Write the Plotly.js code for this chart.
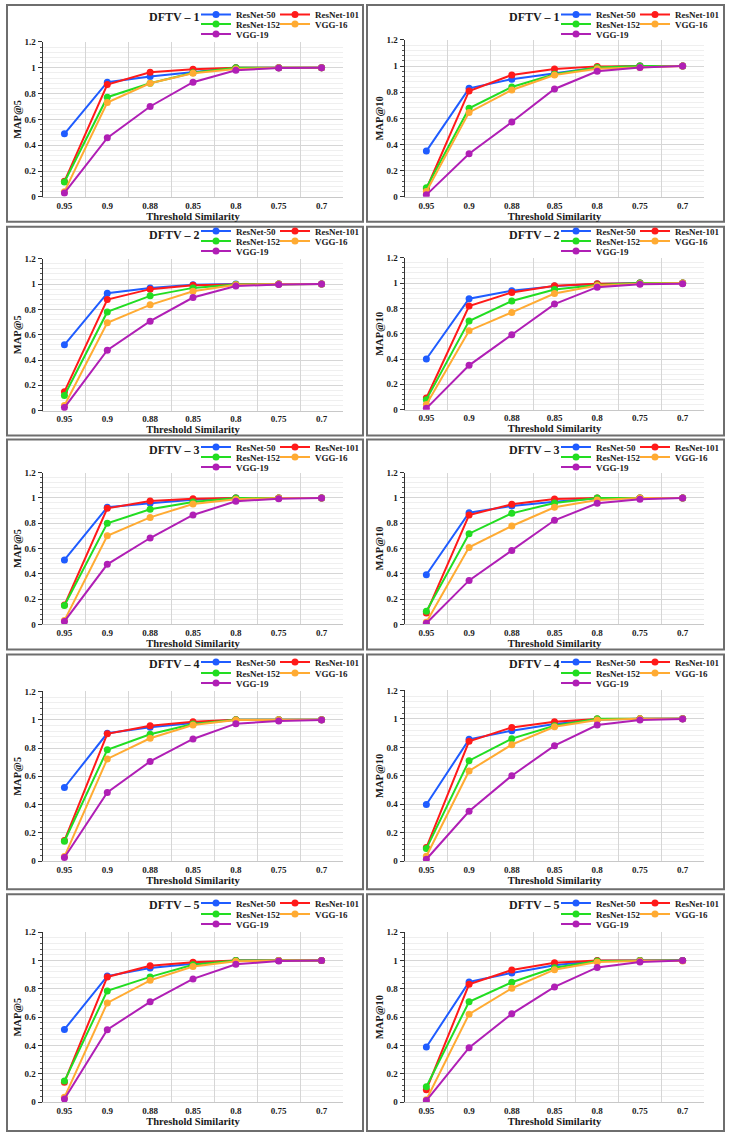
<!DOCTYPE html>
<html><head><meta charset="utf-8">
<script src="https://cdn.plot.ly/plotly-3.0.1.min.js"></script>
<style>html,body{margin:0;padding:0;background:#fff}</style>
</head><body><div id="chart" style="width:733px;height:1139px"></div>
<script>
const thresholds = ['0.95','0.9','0.88','0.85','0.8','0.75','0.7'];
const models = ['ResNet-50','ResNet-101','ResNet-152','VGG-16','VGG-19'];
const datasetNames = ['DFTV – 1','DFTV – 2','DFTV – 3','DFTV – 4','DFTV – 5'];
const xTitle = 'Threshold Similarity';
const metricNames = ['MAP@5','MAP@10'];

// MAP@5 values, one row per dataset (DFTV-1..5), columns follow thresholds
const map5_resnet50 = [
 [0.488, 0.888, 0.932, 0.968, 1.0, 1.0, 1.0],
 [0.52, 0.928, 0.97, 0.994, 1.0, 1.0, 1.0],
 [0.51, 0.926, 0.957, 0.986, 1.0, 1.0, 1.0],
 [0.521, 0.904, 0.946, 0.977, 1.0, 1.0, 1.0],
 [0.513, 0.89, 0.947, 0.977, 1.0, 1.0, 1.0]
];
const map5_resnet101 = [
 [0.12, 0.87, 0.965, 0.988, 1.0, 1.0, 1.0],
 [0.15, 0.878, 0.96, 0.99, 0.997, 1.0, 1.0],
 [0.153, 0.918, 0.976, 0.994, 1.0, 1.0, 1.0],
 [0.146, 0.9, 0.958, 0.986, 1.0, 1.0, 1.0],
 [0.14, 0.884, 0.963, 0.987, 1.0, 1.0, 1.0]
];
const map5_resnet152 = [
 [0.115, 0.772, 0.88, 0.962, 1.0, 1.0, 1.0],
 [0.12, 0.78, 0.907, 0.97, 0.997, 1.0, 1.0],
 [0.15, 0.80, 0.91, 0.968, 1.0, 1.0, 1.0],
 [0.141, 0.787, 0.897, 0.97, 1.0, 1.0, 1.0],
 [0.148, 0.785, 0.884, 0.97, 1.0, 1.0, 1.0]
];
const map5_vgg16 = [
 [0.04, 0.73, 0.88, 0.957, 0.99, 1.0, 1.0],
 [0.04, 0.694, 0.836, 0.944, 0.994, 1.0, 1.0],
 [0.032, 0.70, 0.846, 0.952, 0.99, 1.0, 1.0],
 [0.033, 0.723, 0.869, 0.963, 0.998, 1.0, 1.0],
 [0.033, 0.70, 0.86, 0.958, 0.994, 1.0, 1.0]
];
const map5_vgg19 = [
 [0.03, 0.457, 0.70, 0.888, 0.98, 0.998, 1.0],
 [0.024, 0.477, 0.707, 0.894, 0.984, 0.997, 1.0],
 [0.024, 0.475, 0.683, 0.865, 0.973, 0.994, 1.0],
 [0.026, 0.486, 0.705, 0.864, 0.972, 0.991, 0.998],
 [0.021, 0.511, 0.708, 0.87, 0.973, 0.996, 1.0]
];
// MAP@10 values
const map10_resnet50 = [
 [0.35, 0.83, 0.90, 0.947, 0.99, 1.0, 1.0],
 [0.40, 0.876, 0.94, 0.976, 0.992, 1.0, 1.0],
 [0.393, 0.883, 0.936, 0.97, 0.997, 1.0, 1.0],
 [0.398, 0.856, 0.917, 0.964, 0.994, 1.0, 1.0],
 [0.389, 0.848, 0.912, 0.966, 0.998, 1.0, 1.0]
];
const map10_resnet101 = [
 [0.06, 0.81, 0.932, 0.978, 0.998, 1.0, 1.0],
 [0.092, 0.818, 0.926, 0.979, 0.995, 1.0, 1.0],
 [0.09, 0.865, 0.95, 0.992, 1.0, 1.0, 1.0],
 [0.096, 0.842, 0.94, 0.98, 0.999, 1.0, 1.0],
 [0.087, 0.832, 0.933, 0.984, 1.0, 1.0, 1.0]
];
const map10_resnet152 = [
 [0.07, 0.677, 0.84, 0.937, 0.99, 1.0, 1.0],
 [0.079, 0.70, 0.858, 0.95, 0.984, 1.0, 1.0],
 [0.105, 0.717, 0.878, 0.96, 1.0, 1.0, 1.0],
 [0.089, 0.706, 0.861, 0.952, 1.0, 1.0, 1.0],
 [0.108, 0.708, 0.846, 0.949, 0.996, 1.0, 1.0]
];
const map10_vgg16 = [
 [0.04, 0.646, 0.817, 0.932, 0.98, 0.99, 1.0],
 [0.04, 0.624, 0.768, 0.918, 0.98, 0.995, 1.0],
 [0.018, 0.609, 0.778, 0.926, 0.984, 1.0, 1.0],
 [0.035, 0.634, 0.819, 0.945, 0.992, 1.0, 1.0],
 [0.016, 0.621, 0.804, 0.935, 0.989, 0.996, 0.996]
];
const map10_vgg19 = [
 [0.015, 0.33, 0.572, 0.825, 0.96, 0.99, 1.0],
 [0.01, 0.35, 0.592, 0.834, 0.968, 0.99, 0.995],
 [0.01, 0.348, 0.585, 0.823, 0.957, 0.99, 1.0],
 [0.014, 0.351, 0.601, 0.812, 0.957, 0.992, 0.999],
 [0.01, 0.384, 0.623, 0.813, 0.951, 0.989, 1.0]
];

const map5 = [map5_resnet50, map5_resnet101, map5_resnet152, map5_vgg16, map5_vgg19];
const map10 = [map10_resnet50, map10_resnet101, map10_resnet152, map10_vgg16, map10_vgg19];
const colors = ['#1f5cff', '#ff1a1a', '#22dd22', '#ffab33', '#b01fb5'];

const FONT = 'Liberation Serif, Times New Roman, serif';
const W = 733, H = 1139;
const fx = v => v / W, fy = v => 1 - v / H;

const rowGeo = [
 {box:[4,221],   plot:[[41,196],[39,196]],   title:16,  leg:[14,24,34]},
 {box:[226,435], plot:[[258,410],[257,409]], title:234, leg:[231,241,251]},
 {box:[439,649], plot:[[472,624],[472,624]], title:449, leg:[447,457,467]},
 {box:[654,889], plot:[[691,861],[690,861]], title:664, leg:[662,673,683]},
 {box:[894,1131],plot:[[932,1102],[932,1102]],title:905, leg:[903,914,924]}
];
const colGeo = [
 {box:[7,363],   plot:[43,343],  title:174, legX:[196,275], data: map5},
 {box:[367,724], plot:[405,704], title:534, legX:[556,635], data: map10}
];
const legSlot = [[0,0],[1,0],[0,1],[1,1],[0,2]];

const traces = [];
const layout = {
  width: W, height: H,
  margin: {l:0, r:0, t:0, b:0},
  paper_bgcolor: '#fff', plot_bgcolor: '#fff',
  font: {family: FONT, color: '#1a1a1a'},
  shapes: [], annotations: []
};

for (let r = 0; r < 5; r++) {
  for (let c = 0; c < 2; c++) {
    const idx = r * 2 + c + 1;
    const xs = idx === 1 ? '' : String(idx);
    const rg = rowGeo[r], cg = colGeo[c];
    for (let m = 0; m < 5; m++) {
      const n = (idx - 1) * 5 + m + 1;
      const lid = n === 1 ? 'legend' : 'legend' + n;
      traces.push({
        type: 'scatter', mode: 'lines+markers',
        x: thresholds, y: cg.data[m][r],
        xaxis: 'x' + xs, yaxis: 'y' + xs,
        name: models[m],
        line: {color: colors[m], width: 2},
        marker: {color: colors[m], size: 7},
        legend: lid, showlegend: true, hoverinfo: 'skip'
      });
      const slot = legSlot[m];
      layout[lid] = {
        x: fx(cg.legX[slot[0]]), y: fy(rg.leg[slot[1]]),
        xanchor: 'left', yanchor: 'middle',
        bgcolor: 'rgba(0,0,0,0)', borderwidth: 0,
        font: {family: FONT, size: 9, color: '#1a1a1a', weight: 'bold'},
        itemclick: false, itemdoubleclick: false
      };
    }
    const pr = rg.plot[c];
    layout['xaxis' + xs] = {
      domain: [fx(cg.plot[0]), fx(cg.plot[1])], anchor: 'y' + xs,
      type: 'category', categoryorder: 'array', categoryarray: thresholds,
      range: [-0.5, 6.5], tickson: 'boundaries', ticks: '',
      showgrid: true, gridcolor: '#d6d6d6', gridwidth: 1,
      showline: true, linecolor: '#c8c8c8', linewidth: 1, zeroline: false,
      tickfont: {family: FONT, size: 9, color: '#1a1a1a', weight: 'bold'},
      title: {text: xTitle, font: {family: FONT, size: 10.5, color: '#1a1a1a', weight: 'bold'}, standoff: 2},
      fixedrange: true
    };
    layout['yaxis' + xs] = {
      domain: [fy(pr[1]), fy(pr[0])], anchor: 'x' + xs,
      range: [0, 1.2], tick0: 0, dtick: 0.2,
      ticks: 'outside', ticklen: 4, tickcolor: '#333', tickwidth: 1,
      showline: true, linecolor: '#333', linewidth: 1.5,
      showgrid: true, gridcolor: '#d6d6d6', zeroline: false,
      minor: {dtick: 0.04, ticks: 'outside', ticklen: 2, tickcolor: '#555', showgrid: true, gridcolor: '#efefef'},
      tickfont: {family: FONT, size: 9, color: '#1a1a1a', weight: 'bold'},
      title: {text: metricNames[c], font: {family: FONT, size: 10.5, color: '#1a1a1a', weight: 'bold'}, standoff: 1},
      fixedrange: true
    };
    layout.shapes.push({
      type: 'rect', xref: 'paper', yref: 'paper',
      x0: fx(cg.box[0]), x1: fx(cg.box[1]), y0: fy(rg.box[1]), y1: fy(rg.box[0]),
      line: {color: '#6e6e6e', width: 2}, fillcolor: 'rgba(0,0,0,0)', layer: 'above'
    });
    layout.annotations.push({
      text: datasetNames[r], xref: 'paper', yref: 'paper',
      x: fx(cg.title), y: fy(rg.title), xanchor: 'center', yanchor: 'middle',
      showarrow: false, font: {family: FONT, size: 12, color: '#1a1a1a', weight: 'bold'}
    });
  }
}

Plotly.newPlot('chart', traces, layout, {displayModeBar: false, staticPlot: true});
</script>
</body></html>
